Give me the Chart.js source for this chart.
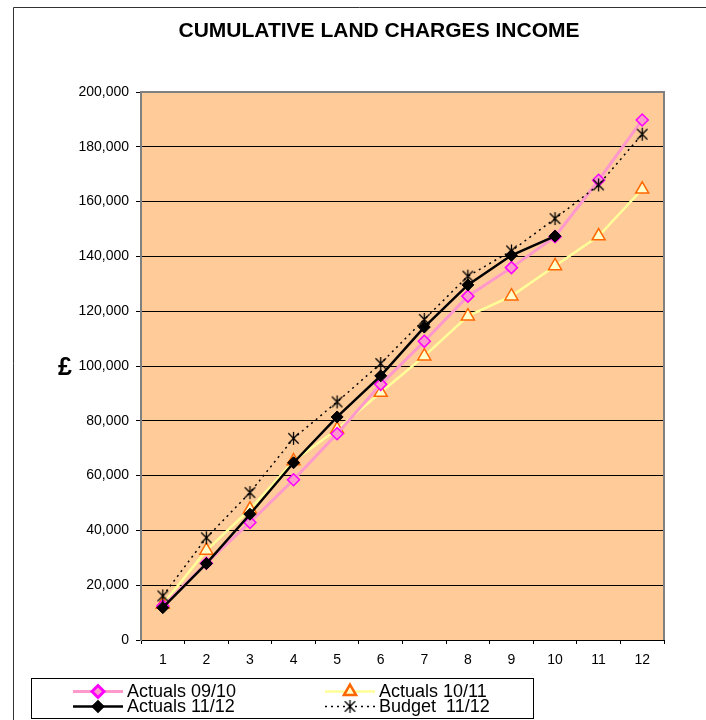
<!DOCTYPE html>
<html>
<head>
<meta charset="utf-8">
<script src="https://cdn.jsdelivr.net/npm/chart.js@4.4.0/dist/chart.umd.min.js"></script>
<style>
  html, body { margin: 0; padding: 0; background: #fff; }
  #wrap { width: 706px; height: 720px; position: relative; }
</style>
</head>
<body>
<div id="wrap"><canvas id="chart" width="706" height="720"></canvas></div>
<script>
const chartTitle = 'CUMULATIVE LAND CHARGES INCOME';
const yAxisLabel = '£';
const months = ['1', '2', '3', '4', '5', '6', '7', '8', '9', '10', '11', '12'];

// cumulative income, £
const actuals0910 = [12400, 28000, 42900, 58500, 75300, 93300, 109000, 125500, 135900, 147200, 167800, 189800];
const actuals1011 = [13000, 32700, 47700, 65300, 76900, 90300, 103600, 118200, 125500, 136500, 147400, 164500];
const actuals1112 = [11800, 27900, 45900, 64700, 81400, 96400, 114200, 129600, 140400, 147400];
const budget1112  = [16100, 37300, 53800, 73600, 86900, 100900, 117000, 132800, 142000, 153800, 166100, 184600];

const yMin = 0, yMax = 200000, yStep = 20000;

const FONT = "'Liberation Sans', Arial, sans-serif";

// Excel style asterisk marker: an X with a vertical stroke
function makeAsterisk(size, lw) {
  const c = document.createElement('canvas');
  c.width = size; c.height = size;
  const g = c.getContext('2d');
  const h = size / 2, r = h - 1, d = r * 0.8;
  g.strokeStyle = '#000';
  g.lineWidth = lw;
  g.beginPath();
  g.moveTo(h - d, h - d); g.lineTo(h + d, h + d);
  g.moveTo(h + d, h - d); g.lineTo(h - d, h + d);
  g.moveTo(h, h - r); g.lineTo(h, h + r);
  g.stroke();
  return c;
}
const asterisk = makeAsterisk(15, 1.3);

// background, outer frame, title and axis label
const plotFrame = {
  id: 'plotFrame',
  beforeDraw(chart) {
    const { ctx, chartArea: a } = chart;
    ctx.save();
    ctx.fillStyle = '#FFCC99';
    ctx.fillRect(a.left, a.top, a.right - a.left, a.bottom - a.top);
    ctx.strokeStyle = '#333';
    ctx.lineWidth = 1;
    ctx.beginPath();
    ctx.moveTo(13.5, 720);
    ctx.lineTo(13.5, 7.5);
    ctx.lineTo(706, 7.5);
    ctx.stroke();

    ctx.fillStyle = '#000';
    ctx.textAlign = 'center';
    ctx.textBaseline = 'middle';
    ctx.font = 'bold 21px ' + FONT;
    ctx.fillText(chartTitle, 379, 31);
    ctx.font = 'bold 25px ' + FONT;
    ctx.fillText(yAxisLabel, 65, 368);
    ctx.restore();
  },
  beforeDatasetsDraw(chart) {
    const { ctx, chartArea: a } = chart;
    ctx.save();
    ctx.strokeStyle = '#808080';
    ctx.lineWidth = 2;
    ctx.beginPath();
    ctx.moveTo(a.left, a.top);
    ctx.lineTo(a.right, a.top);
    ctx.lineTo(a.right, a.bottom);
    ctx.stroke();
    ctx.restore();
  }
};

// boxed two column legend under the axis
const boxLegend = {
  id: 'boxLegend',
  afterDraw(chart) {
    const { ctx } = chart;
    const ds = chart.data.datasets;
    const slots = [
      { i: 0, x: 73, y: 691 },
      { i: 1, x: 325, y: 691 },
      { i: 2, x: 73, y: 706 },
      { i: 3, x: 325, y: 706 }
    ];
    ctx.save();
    ctx.strokeStyle = '#000';
    ctx.lineWidth = 1;
    ctx.strokeRect(31.5, 678.5, 502, 40);
    slots.forEach(s => {
      const d = ds[s.i];
      ctx.save();
      ctx.strokeStyle = d.borderColor;
      ctx.lineWidth = d.borderWidth;
      ctx.setLineDash(d.borderDash || []);
      ctx.beginPath();
      ctx.moveTo(s.x, s.y + 0.5);
      ctx.lineTo(s.x + 50, s.y + 0.5);
      ctx.stroke();
      ctx.setLineDash([]);
      ctx.fillStyle = d.pointBackgroundColor;
      ctx.strokeStyle = d.pointBorderColor;
      Chart.helpers.drawPoint(ctx, {
        pointStyle: d.pointStyle,
        radius: d.legendRadius,
        rotation: 0,
        borderWidth: d.pointBorderWidth
      }, s.x + 25, s.y + 0.5);
      ctx.restore();
      ctx.fillStyle = '#000';
      ctx.font = '18px ' + FONT;
      ctx.textAlign = 'left';
      ctx.textBaseline = 'alphabetic';
      ctx.fillText(d.label, s.x + 54, s.y + 6);
    });
    ctx.restore();
  }
};

new Chart(document.getElementById('chart'), {
  type: 'line',
  data: {
    labels: months,
    datasets: [
      {
        label: 'Actuals 09/10',
        data: actuals0910,
        borderColor: '#FF99CC',
        borderWidth: 3,
        pointStyle: 'rectRot',
        pointRadius: 6,
        legendRadius: 6,
        pointBackgroundColor: '#FF99CC',
        pointBorderColor: '#FF00FF',
        pointBorderWidth: 1.5,
        order: 2
      },
      {
        label: 'Actuals 10/11',
        data: actuals1011,
        borderColor: '#FFFF99',
        borderWidth: 2.5,
        pointStyle: 'triangle',
        pointRadius: 7.5,
        legendRadius: 7,
        pointBackgroundColor: '#FFFFCC',
        pointBorderColor: '#FF6600',
        pointBorderWidth: 1.5,
        order: 3
      },
      {
        label: 'Actuals 11/12',
        data: actuals1112,
        borderColor: '#000000',
        borderWidth: 2.5,
        pointStyle: 'rectRot',
        pointRadius: 6,
        legendRadius: 5,
        pointBackgroundColor: '#000000',
        pointBorderColor: '#000000',
        pointBorderWidth: 1,
        order: 1
      },
      {
        label: 'Budget  11/12',
        data: budget1112,
        borderColor: '#000000',
        borderWidth: 1.5,
        borderDash: [2, 4],
        pointStyle: asterisk,
        pointRadius: 7,
        legendRadius: 7,
        pointBackgroundColor: '#000000',
        pointBorderColor: '#000000',
        pointBorderWidth: 1,
        order: 0
      }
    ]
  },
  options: {
    responsive: false,
    animation: false,
    events: [],
    layout: { padding: { left: 0, right: 42, top: 92, bottom: 40 } },
    elements: { line: { tension: 0 } },
    plugins: {
      legend: { display: false },
      title: { display: false },
      tooltip: { enabled: false }
    },
    scales: {
      x: {
        offset: true,
        grid: { drawOnChartArea: false, drawTicks: true, tickLength: 4, color: '#000', offset: true },
        border: { color: '#000', width: 1 },
        ticks: { color: '#000', font: { family: FONT, size: 14 }, padding: 8, maxRotation: 0, autoSkip: false },
        afterFit(s) { s.height = 40; }
      },
      y: {
        min: yMin,
        max: yMax,
        grid: { color: '#000', lineWidth: 1, tickLength: 5, drawTicks: true },
        border: { color: '#808080', width: 2 },
        ticks: {
          stepSize: yStep,
          color: '#000',
          padding: 7,
          font: { family: FONT, size: 14 },
          callback: v => v.toLocaleString('en-US')
        },
        afterFit(s) { s.width = 141; }
      }
    }
  },
  plugins: [plotFrame, boxLegend]
});
</script>
</body>
</html>
